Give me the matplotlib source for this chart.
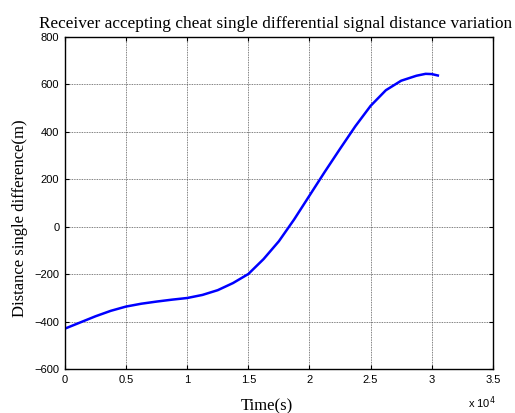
import matplotlib
matplotlib.use("Agg")
import matplotlib.pyplot as plt

# time in seconds, distance single difference in metres
time_s = [0, 1250, 2500, 3750, 5000, 6250, 7500, 8750, 10000, 11250, 12500,
          13750, 15000, 16250, 17500, 18750, 20000, 21250, 22500, 23750,
          25000, 26250, 27500, 28750, 29500, 30000, 30500]
dist_m = [-430, -404, -378, -355, -337, -325, -316, -308, -301, -288, -268,
          -238, -200, -137, -62, 30, 130, 230, 327, 422,
          508, 574, 614, 635, 643, 642, 636]

x_ticks = [0, 5000, 10000, 15000, 20000, 25000, 30000, 35000]
x_tick_labels = ["0", "0.5", "1", "1.5", "2", "2.5", "3", "3.5"]
y_ticks = [-600, -400, -200, 0, 200, 400, 600, 800]

title = "Receiver accepting cheat single differential signal distance variation"

fig = plt.figure(figsize=(5.15, 4.13), dpi=100)
ax = fig.add_axes([0.126, 0.1065, 0.831, 0.805])

ax.plot(time_s, dist_m, color="#0000ff", linewidth=1.8)

ax.set_xlim(0, 35000)
ax.set_ylim(-600, 800)
ax.set_xticks(x_ticks)
ax.set_xticklabels(x_tick_labels)
ax.set_yticks(y_ticks)

ax.grid(True, color="#555555", linestyle=(0, (1, 1)), linewidth=0.6)
ax.tick_params(direction="in", top=True, right=True, length=3, width=0.8,
               labelsize=8, pad=4)
for lab in ax.get_xticklabels() + ax.get_yticklabels():
    lab.set_family("Liberation Sans")
for sp in ax.spines.values():
    sp.set_linewidth(1.0)

ax.set_title(title, family="Liberation Serif", fontsize=12.4, pad=6, x=0.492)
ax.set_xlabel("Time(s)", family="Liberation Serif", fontsize=12)
ax.set_ylabel("Distance single difference(m)", family="Liberation Serif",
              fontsize=12)
ax.xaxis.set_label_coords(0.471, -0.087)
ax.yaxis.set_label_coords(-0.087, 0.454)
ax.text(0.974, -0.102, r"x 10$^{4}$", transform=ax.transAxes,
        family="Liberation Sans", fontsize=8, ha="center", va="center")

fig.savefig("out.png", dpi=100)
